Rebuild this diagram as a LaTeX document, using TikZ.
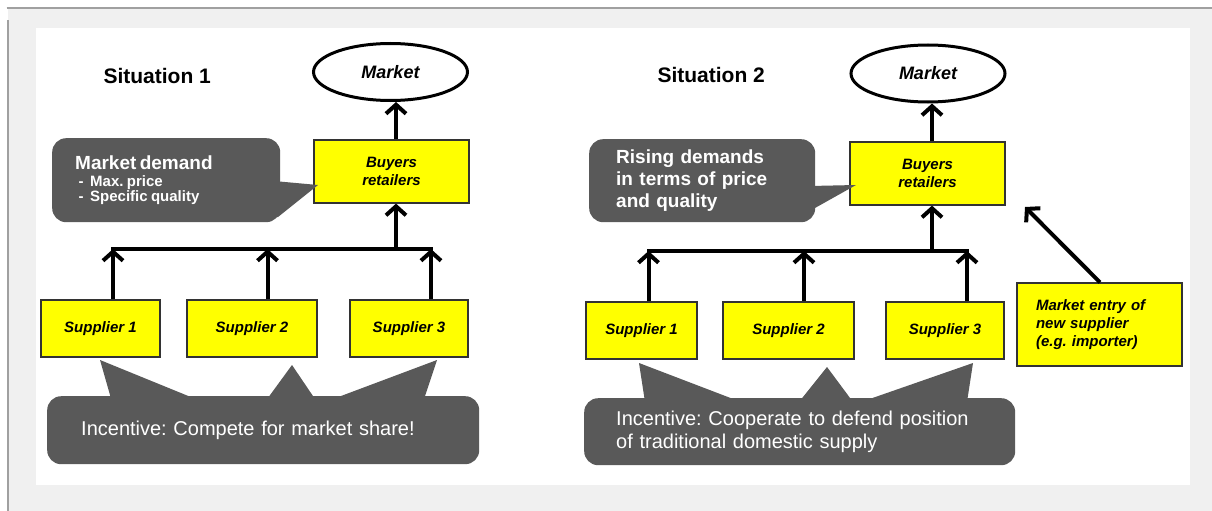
\documentclass[tikz,border=0pt]{standalone}
\usepackage{fontspec}
\setmainfont{Liberation Sans}
\usetikzlibrary{shapes.geometric,arrows.meta}
\definecolor{bggray}{HTML}{F0F0F0}
\definecolor{framegray}{HTML}{A0A0A0}
\definecolor{callgray}{HTML}{595959}
\definecolor{boxyellow}{HTML}{FFFF00}
\frenchspacing
\begin{document}
\begin{tikzpicture}[x=1pt,y=-1pt,
  ybox/.style={draw=black!80, line width=1.2pt, fill=boxyellow, inner sep=0pt,
    font=\fontsize{15}{18}\selectfont\bfseries\itshape},
  mkt/.style={ellipse, draw, line width=3pt, fill=white, minimum width=154pt,
    minimum height=57pt, inner sep=0pt, font=\fontsize{18}{21}\selectfont\bfseries\itshape},
  arr/.style={line width=4pt, -{Straight Barb[length=9pt,width=20pt]}},
  busline/.style={line width=4pt, line cap=rect},
  callbox/.style={fill=callgray, rounded corners=14pt, text=white, align=left,
    inner ysep=0pt, anchor=north west},
  sit/.style={font=\fontsize{21}{24}\selectfont\bfseries, anchor=west},
  ptr/.style={fill=callgray}
]
\useasboundingbox (0,0) rectangle (1212,511);
% frame
\fill[white] (0,0) rectangle (1212,511);
\fill[bggray] (8,9) rectangle (1212,511);
\draw[framegray, line width=2pt] (7.5,511) -- (7.5,20);
\draw[framegray, line width=2pt] (6.5,8.5) -- (1212,8.5);
\fill[white] (36,28) rectangle (1190,485);

% ---------------- Situation 1 ----------------
\node[sit] (t1) at (100,76) {Situation 1};
\node[mkt] (m1) at (390.5,72) {Market};
\node[ybox, minimum width=155pt, minimum height=63pt, align=center] (b1) at (391.5,171.5) {Buyers\\retailers};
\node[ybox, minimum width=119pt, minimum height=57pt] (s11) at (100.5,328.5) {Supplier 1};
\node[ybox, minimum width=130pt, minimum height=57pt] (s12) at (252,328.5) {Supplier 2};
\node[ybox, minimum width=118pt, minimum height=57pt] (s13) at (409,328.5) {Supplier 3};
\coordinate (j11) at (113,249);
\coordinate (j12) at (267.5,249);
\coordinate (j13) at (431,249);
\coordinate (j1m) at (396,249);
\draw[busline] (j11) -- (j13);
\draw[arr] (s11.north -| j11) -- (j11);
\draw[arr] (s12.north -| j12) -- (j12);
\draw[arr] (s13.north -| j13) -- (j13);
\draw[arr] (j1m) -- (b1.south -| j1m);
\draw[arr] (b1.north -| j1m) -- (j1m |- m1.south);

\node[callbox, text width=182pt, inner xsep=23pt, minimum height=84pt] (cd1) at (52,138)
  {\fontsize{19}{22}\selectfont\bfseries Market demand\\[-1pt]
   \fontsize{15}{18}\selectfont\bfseries\ -\ \ Max. price\\
   \ -\ \ Specific quality};
\fill[ptr] (274,181) -- (318,185) -- (278,217) -- (274,217) -- cycle;

\node[callbox, text width=364pt, inner xsep=34pt, minimum height=68pt,
  font=\fontsize{20}{23}\selectfont] (inc1) at (47,396) {Incentive: Compete for market share!};
\fill[ptr] (112,402) -- (100,360) -- (203,402) -- cycle;
\fill[ptr] (265,402) -- (292,365) -- (317,402) -- cycle;
\fill[ptr] (325,402) -- (437,360) -- (423,402) -- cycle;

% ---------------- Situation 2 ----------------
\node[sit] (t2) at (654,75) {Situation 2};
\node[mkt] (m2) at (928,73.5) {Market};
\node[ybox, minimum width=155pt, minimum height=63pt, align=center] (b2) at (927.5,173.5) {Buyers\\retailers};
\node[ybox, minimum width=111pt, minimum height=57pt] (s21) at (641.5,330.5) {Supplier 1};
\node[ybox, minimum width=131pt, minimum height=57pt] (s22) at (788.5,330.5) {Supplier 2};
\node[ybox, minimum width=118pt, minimum height=57pt] (s23) at (945,330.5) {Supplier 3};
\node[ybox, minimum width=165pt, minimum height=83pt, text width=127pt, align=left,
  inner xsep=19pt] (me) at (1099.5,324.5) {Market entry of\\new supplier\\(e.g. importer)};
\coordinate (j21) at (648.5,251);
\coordinate (j22) at (804,251);
\coordinate (j23) at (967,251);
\coordinate (j2m) at (932,251);
\coordinate (etip) at (1025,207);
\draw[busline] (j21) -- (j23);
\draw[arr] (s21.north -| j21) -- (j21);
\draw[arr] (s22.north -| j22) -- (j22);
\draw[arr] (s23.north -| j23) -- (j23);
\draw[arr] (j2m) -- (b2.south -| j2m);
\draw[arr] (b2.north -| j2m) -- (j2m |- m2.south);
\draw[arr] (me.north -| 1100,0) -- (etip);

\node[callbox, text width=172pt, inner xsep=27pt, minimum height=83pt,
  font=\fontsize{19}{22}\selectfont\bfseries] (cd2) at (589,139)
  {Rising demands\\in terms of price\\and quality};
\fill[ptr] (810,186) -- (856,185) -- (815,208) -- (810,208) -- cycle;

\node[callbox, text width=367pt, inner xsep=32pt, minimum height=67pt,
  font=\fontsize{20}{23}\selectfont] (inc2) at (584,398)
  {Incentive: Cooperate to defend position\\of traditional domestic supply};
\fill[ptr] (645,402) -- (639,363) -- (741,402) -- cycle;
\fill[ptr] (799,402) -- (827,367) -- (853,402) -- cycle;
\fill[ptr] (861,402) -- (973,363) -- (967,402) -- cycle;
\end{tikzpicture}
\end{document}
